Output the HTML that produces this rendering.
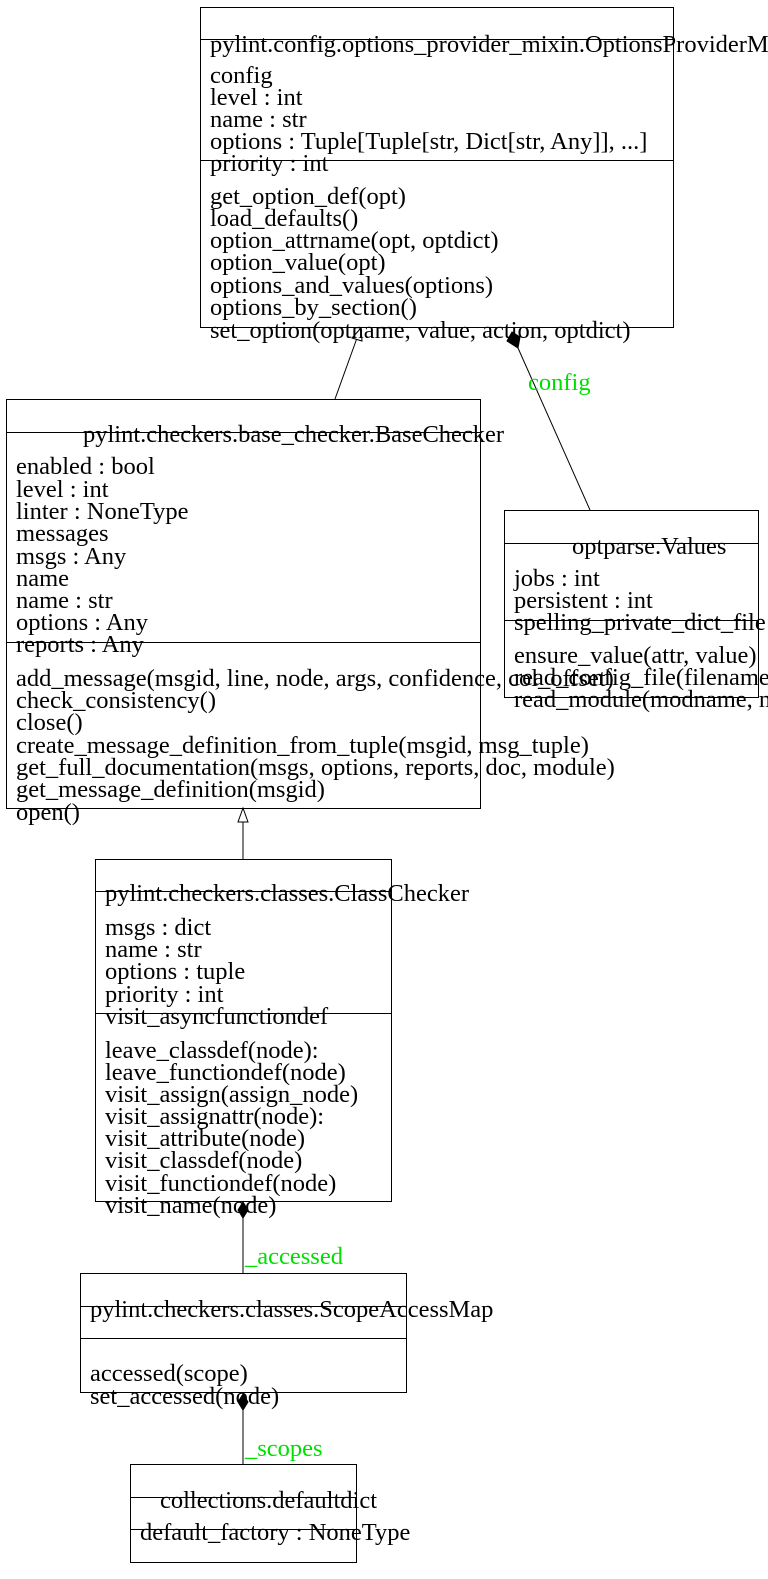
<!DOCTYPE html>
<html><head><meta charset="utf-8"><style>
html,body{margin:0;padding:0;background:#fff;}
svg{display:block;}
text{font-family:"Liberation Serif",serif;font-size:24.5px;fill:#000;}
.g{fill:#00e000;}
</style></head><body>
<svg width="768" height="1579" viewBox="0 0 768 1579" xmlns="http://www.w3.org/2000/svg">
<g fill="none" stroke="#000" stroke-width="1">
<rect x="200.5" y="7.5" width="473" height="320"/>
<line x1="200" y1="39.5" x2="673" y2="39.5"/>
<line x1="200" y1="160.5" x2="673" y2="160.5"/>
<rect x="6.5" y="399.5" width="474" height="409"/>
<line x1="6" y1="432.5" x2="480" y2="432.5"/>
<line x1="6" y1="642.5" x2="480" y2="642.5"/>
<rect x="504.5" y="510.5" width="254" height="187"/>
<line x1="504" y1="543.5" x2="758" y2="543.5"/>
<line x1="504" y1="620.5" x2="758" y2="620.5"/>
<rect x="95.5" y="859.5" width="296" height="342"/>
<line x1="95" y1="891.5" x2="391" y2="891.5"/>
<line x1="95" y1="1013.5" x2="391" y2="1013.5"/>
<rect x="80.5" y="1273.5" width="326" height="119"/>
<line x1="80" y1="1306.5" x2="406" y2="1306.5"/>
<line x1="80" y1="1338.5" x2="406" y2="1338.5"/>
<rect x="130.5" y="1464.5" width="226" height="98"/>
<line x1="130" y1="1497.5" x2="356" y2="1497.5"/>
<line x1="130" y1="1529.5" x2="356" y2="1529.5"/>
<line x1="335" y1="399" x2="357" y2="338"/>
<polygon points="361,328 352,338 362,341" fill="#fff"/>
<line x1="590" y1="510" x2="518" y2="348"/>
<polygon points="512,332 507,341 518,348 520,337" fill="#000"/>
<line x1="243" y1="859" x2="243" y2="822"/>
<polygon points="243,808 238,822 248,822" fill="#fff"/>
<line x1="243" y1="1273" x2="243" y2="1218"/>
<polygon points="243,1202 238,1210 243,1218 248,1210" fill="#000"/>
<line x1="243" y1="1464" x2="243" y2="1410"/>
<polygon points="243,1394 238,1402 243,1410 248,1402" fill="#000"/>
</g>
<text x="210" y="52">pylint.config.options_provider_mixin.OptionsProviderMixIn</text>
<text x="210" y="83">config</text>
<text x="210" y="105">level : int</text>
<text x="210" y="127">name : str</text>
<text x="210" y="149">options : Tuple[Tuple[str, Dict[str, Any]], ...]</text>
<text x="210" y="171">priority : int</text>
<text x="210" y="204">get_option_def(opt)</text>
<text x="210" y="226">load_defaults()</text>
<text x="210" y="248">option_attrname(opt, optdict)</text>
<text x="210" y="270">option_value(opt)</text>
<text x="210" y="293">options_and_values(options)</text>
<text x="210" y="315">options_by_section()</text>
<text x="210" y="338">set_option(optname, value, action, optdict)</text>
<text x="528" y="390" class="g">config</text>

<text x="83" y="442">pylint.checkers.base_checker.BaseChecker</text>
<text x="16" y="474">enabled : bool</text>
<text x="16" y="497">level : int</text>
<text x="16" y="519">linter : NoneType</text>
<text x="16" y="541">messages</text>
<text x="16" y="564">msgs : Any</text>
<text x="16" y="586">name</text>
<text x="16" y="608">name : str</text>
<text x="16" y="630">options : Any</text>
<text x="16" y="652">reports : Any</text>
<text x="16" y="686">add_message(msgid, line, node, args, confidence, col_offset)</text>
<text x="16" y="708">check_consistency()</text>
<text x="16" y="730">close()</text>
<text x="16" y="753">create_message_definition_from_tuple(msgid, msg_tuple)</text>
<text x="16" y="775">get_full_documentation(msgs, options, reports, doc, module)</text>
<text x="16" y="797">get_message_definition(msgid)</text>
<text x="16" y="820">open()</text>

<text x="572" y="554">optparse.Values</text>
<text x="514" y="586">jobs : int</text>
<text x="514" y="608">persistent : int</text>
<text x="514" y="630">spelling_private_dict_file</text>
<text x="514" y="663">ensure_value(attr, value)</text>
<text x="514" y="685">read_config_file(filename, modes)</text>
<text x="514" y="707">read_module(modname, mode)</text>

<text x="105" y="901">pylint.checkers.classes.ClassChecker</text>
<text x="105" y="935">msgs : dict</text>
<text x="105" y="957">name : str</text>
<text x="105" y="979">options : tuple</text>
<text x="105" y="1002">priority : int</text>
<text x="105" y="1024">visit_asyncfunctiondef</text>
<text x="105" y="1058">leave_classdef(node):</text>
<text x="105" y="1080">leave_functiondef(node)</text>
<text x="105" y="1102">visit_assign(assign_node)</text>
<text x="105" y="1124">visit_assignattr(node):</text>
<text x="105" y="1146">visit_attribute(node)</text>
<text x="105" y="1168">visit_classdef(node)</text>
<text x="105" y="1191">visit_functiondef(node)</text>
<text x="105" y="1213">visit_name(node)</text>
<text x="245" y="1264" class="g">_accessed</text>

<text x="90" y="1317">pylint.checkers.classes.ScopeAccessMap</text>
<text x="90" y="1381">accessed(scope)</text>
<text x="90" y="1404">set_accessed(node)</text>
<text x="245" y="1456" class="g">_scopes</text>

<text x="160" y="1508">collections.defaultdict</text>
<text x="140" y="1540">default_factory : NoneType</text>
</svg>
</body></html>
